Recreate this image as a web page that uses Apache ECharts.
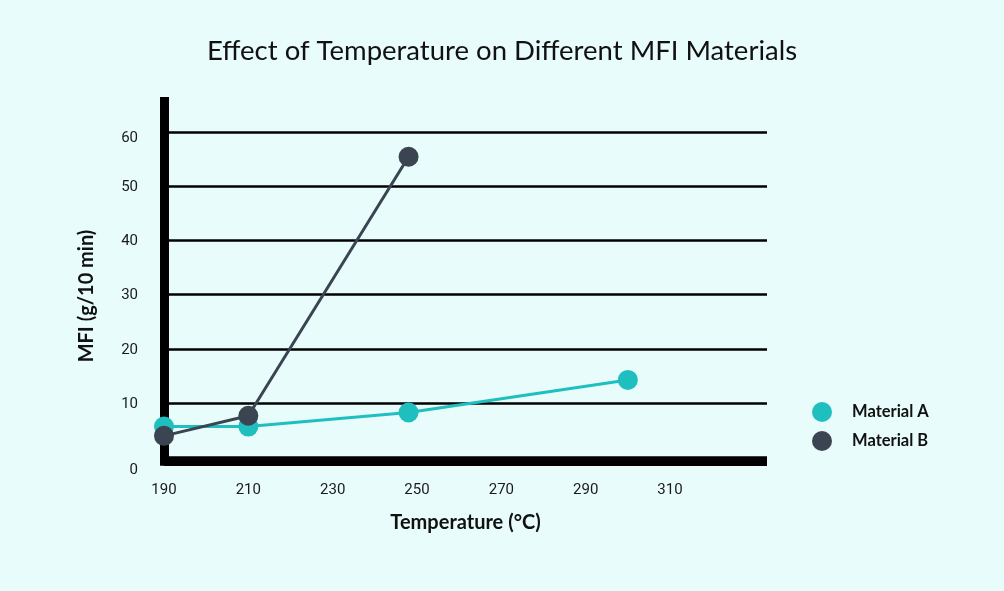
<!DOCTYPE html>
<html>
<head>
<meta charset="utf-8">
<script src="https://cdn.jsdelivr.net/npm/echarts@6/dist/echarts.min.js"></script>
<style>
html,body{margin:0;padding:0;background:#e8fcfb;}
#c{width:1004px;height:591px;}
</style>
</head>
<body>
<div id="c"></div>
<script>
const titleText = 'Effect of Temperature on Different MFI Materials';
const xName = 'Temperature (°C)';
const yName = 'MFI (g/10 min)';
const seriesNames = ['Material A', 'Material B'];
const materialA = [[190, 5.7], [210, 5.7], [248, 8.3], [300, 14.3]];
const materialB = [[190, 4.0], [210, 7.7], [248, 55.4]];
const xTicks = [190, 210, 230, 250, 270, 290, 310];
const yTicks = [0, 10, 20, 30, 40, 50, 60];

const colA = '#20bfbf';
const colB = '#3a4551';

const chart = echarts.init(document.getElementById('c'));
chart.setOption({
  backgroundColor: '#e8fcfb',
  animation: false,
  title: {
    text: titleText,
    left: 'center',
    top: 32,
    textStyle: { fontFamily: 'Lato', fontWeight: 'normal', fontSize: 27.5, color: '#111' }
  },
  legend: {
    orient: 'vertical',
    left: 807,
    top: 397,
    itemWidth: 20,
    itemHeight: 20,
    itemGap: 9,
    icon: 'circle',
    data: seriesNames,
    textStyle: { fontFamily: 'Lato', fontWeight: 'bold', fontSize: 16.5, color: '#111', padding: [0, 0, 0, 15] }
  },
  grid: { left: 164, right: 237, top: 97, bottom: 125.3 },
  xAxis: {
    type: 'value',
    min: 190,
    max: 333,
    interval: 20,
    offset: -4,
    name: xName,
    nameLocation: 'middle',
    nameGap: 51,
    nameTextStyle: { fontFamily: 'Lato', fontWeight: 'bold', fontSize: 20, color: '#111' },
    axisLine: { show: true, onZero: false, lineStyle: { color: '#000', width: 9, cap: 'butt' } },
    axisTick: { show: false },
    splitLine: { show: false },
    axisLabel: {
      customValues: xTicks,
      margin: 21,
      fontFamily: 'Roboto',
      fontSize: 15,
      color: '#1a1a1a'
    }
  },
  yAxis: {
    type: 'value',
    min: -1.5,
    max: 66.4,
    axisLine: { show: true, lineStyle: { color: '#000', width: 9, cap: 'butt' } },
    axisTick: { show: false, customValues: yTicks },
    splitLine: { show: true, lineStyle: { color: '#000', width: 2.5 } },
    axisLabel: {
      customValues: yTicks,
      margin: 26,
      fontFamily: 'Roboto',
      fontSize: 15,
      color: '#1a1a1a',
      formatter: function (v) {
        if (v === 0) return '{z|' + v + '}';
        if (v === 60) return '{s|' + v + '}';
        return '{n|' + v + '}';
      },
      rich: {
        z: { fontFamily: 'Roboto', fontSize: 15, color: '#1a1a1a', padding: [26, 0, 0, 0] },
        s: { fontFamily: 'Roboto', fontSize: 15, color: '#1a1a1a', padding: [13, 0, 0, 0] },
        n: { fontFamily: 'Roboto', fontSize: 15, color: '#1a1a1a', padding: [2, 0, 0, 0] }
      }
    }
  },
  graphic: [{
    type: 'text',
    x: 87,
    y: 296,
    rotation: Math.PI / 2,
    style: {
      text: yName,
      fontFamily: 'Lato',
      fontWeight: 'bold',
      fontSize: 20,
      fill: '#111',
      textAlign: 'center',
      textVerticalAlign: 'middle'
    }
  }],
  series: [
    {
      name: seriesNames[0],
      type: 'line',
      data: materialA,
      symbol: 'circle',
      symbolSize: 20,
      itemStyle: { color: colA },
      lineStyle: { color: colA, width: 3 },
      z: 3
    },
    {
      name: seriesNames[1],
      type: 'line',
      data: materialB,
      symbol: 'circle',
      symbolSize: 20,
      itemStyle: { color: colB },
      lineStyle: { color: colB, width: 3 },
      z: 4
    }
  ]
});
</script>
</body>
</html>
